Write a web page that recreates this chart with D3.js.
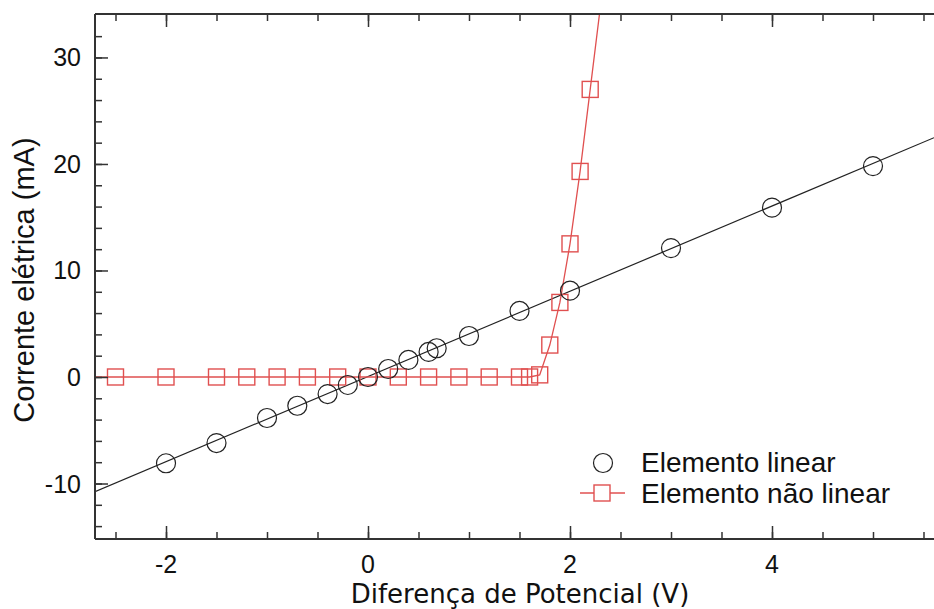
<!DOCTYPE html>
<html>
<head>
<meta charset="utf-8">
<script src="https://cdn.jsdelivr.net/npm/d3@7"></script>
<style>
  body { margin: 0; background: #fff; }
  text { font-family: "Liberation Sans", Arial, sans-serif; fill: #111; }
</style>
</head>
<body>
<svg id="chart" width="934" height="609"></svg>
<script>
// data
var linearV = [-2, -1.5, -1, -0.7, -0.4, -0.2, 0, 0.2, 0.4, 0.6, 0.68, 1, 1.5, 2, 3, 4, 5];
var linearI = [-8.1, -6.2, -3.85, -2.7, -1.6, -0.75, 0, 0.75, 1.6, 2.35, 2.7, 3.85, 6.2, 8.1, 12.1, 15.9, 19.8];
var nonlinV = [-2.5, -2, -1.5, -1.2, -0.9, -0.6, -0.3, 0, 0.3, 0.6, 0.9, 1.2, 1.5, 1.6, 1.7, 1.8, 1.9, 2.0, 2.1, 2.2];
var nonlinI = [0, 0, 0, 0, 0, 0, 0, 0, 0, 0, 0, 0, 0, 0, 0.2, 3.0, 7.0, 12.5, 19.3, 27.0];
var linearFit = { slope: 4.0, intercept: 0.05 };
var xTicks = [-2, 0, 2, 4];
var yTicks = [-10, 0, 10, 20, 30];
var seriesNames = ["Elemento linear", "Elemento não linear"];

var svg = d3.select("#chart");
var plotLeft = 95, plotRight = 934, plotTop = 14, plotBottom = 539;
var axisColor = "#333";
var red = "#e05050";

var x = d3.scaleLinear().domain([-2.703, 5.604]).range([plotLeft, plotRight]);
var y = d3.scaleLinear().domain([-15.21, 34.08]).range([plotBottom, plotTop]);

svg.append("defs").append("clipPath").attr("id", "plotClip")
  .append("rect").attr("x", plotLeft).attr("y", plotTop)
  .attr("width", plotRight - plotLeft).attr("height", plotBottom - plotTop);

var plot = svg.append("g").attr("clip-path", "url(#plotClip)");

// linear fit line over whole range
var xd = x.domain();
plot.append("line")
  .attr("x1", x(xd[0])).attr("y1", y(linearFit.slope * xd[0] + linearFit.intercept))
  .attr("x2", x(xd[1])).attr("y2", y(linearFit.slope * xd[1] + linearFit.intercept))
  .attr("stroke", "#222").attr("stroke-width", 1.2);

// non linear curve: through the points, flat to the left edge and extended past the last point
var nl = nonlinV.map(function(v, i) { return [v, nonlinI[i]]; });
var n = nl.length;
var lastSlope = (nl[n - 1][1] - nl[n - 2][1]) / (nl[n - 1][0] - nl[n - 2][0]);
var curvePts = [[xd[0], nl[0][1]]].concat(nl, [[nl[n - 1][0] + 0.3, nl[n - 1][1] + lastSlope * 0.3]]);
var line = d3.line().x(function(d) { return x(d[0]); }).y(function(d) { return y(d[1]); });
plot.append("path").attr("d", line(curvePts))
  .attr("fill", "none").attr("stroke", red).attr("stroke-width", 1.3);

plot.selectAll(".sq").data(nl).enter().append("rect")
  .attr("class", "sq")
  .attr("x", function(d) { return x(d[0]) - 8; })
  .attr("y", function(d) { return y(d[1]) - 8; })
  .attr("width", 16).attr("height", 16)
  .attr("fill", "none").attr("stroke", red).attr("stroke-width", 1.4);

plot.selectAll(".pt").data(linearV).enter().append("circle")
  .attr("class", "pt")
  .attr("cx", function(d) { return x(d); })
  .attr("cy", function(d, i) { return y(linearI[i]); })
  .attr("r", 9.5)
  .attr("fill", "none").attr("stroke", "#222").attr("stroke-width", 1.2);

// axes (ticks pointing inward)
function styleAxis(g) {
  g.select(".domain").remove();
  g.selectAll("line").attr("stroke", axisColor).attr("stroke-width", 1.5);
}
var xMinor = d3.range(-2.5, 5.6, 0.5);
var yMinor = d3.range(-14, 34, 2);

svg.append("g").attr("transform", "translate(0," + plotBottom + ")")
  .call(d3.axisTop(x).tickValues(xMinor).tickSize(7).tickFormat(""))
  .call(styleAxis);
svg.append("g").attr("transform", "translate(0," + plotBottom + ")")
  .call(d3.axisTop(x).tickValues(xTicks).tickSize(13).tickFormat(""))
  .call(styleAxis);
svg.append("g").attr("transform", "translate(0," + plotTop + ")")
  .call(d3.axisBottom(x).tickValues(xMinor).tickSize(7).tickFormat(""))
  .call(styleAxis);
svg.append("g").attr("transform", "translate(0," + plotTop + ")")
  .call(d3.axisBottom(x).tickValues(xTicks).tickSize(13).tickFormat(""))
  .call(styleAxis);
svg.append("g").attr("transform", "translate(" + plotLeft + ",0)")
  .call(d3.axisRight(y).tickValues(yMinor).tickSize(7).tickFormat(""))
  .call(styleAxis);
svg.append("g").attr("transform", "translate(" + plotLeft + ",0)")
  .call(d3.axisRight(y).tickValues(yTicks).tickSize(13).tickFormat(""))
  .call(styleAxis);

svg.append("line").attr("x1", plotLeft).attr("x2", plotRight).attr("y1", plotBottom).attr("y2", plotBottom)
  .attr("stroke", axisColor).attr("stroke-width", 2);
svg.append("line").attr("x1", plotLeft).attr("x2", plotRight).attr("y1", plotTop).attr("y2", plotTop)
  .attr("stroke", axisColor).attr("stroke-width", 2);
svg.append("line").attr("x1", plotLeft).attr("x2", plotLeft).attr("y1", plotTop).attr("y2", plotBottom)
  .attr("stroke", axisColor).attr("stroke-width", 2);

// tick labels
svg.selectAll(".xl").data(xTicks).enter().append("text")
  .attr("x", function(d) { return x(d); }).attr("y", 573)
  .attr("text-anchor", "middle").style("font-size", "25px")
  .text(function(d) { return d; });
svg.selectAll(".yl").data(yTicks).enter().append("text")
  .attr("x", 81).attr("y", function(d) { return y(d) + 9; })
  .attr("text-anchor", "end").style("font-size", "25px")
  .text(function(d) { return d; });

// axis titles
svg.append("text").attr("x", 520).attr("y", 603)
  .attr("text-anchor", "middle")
  .style("font-family", "'DejaVu Sans', sans-serif").style("font-size", "26px")
  .text("Diferença de Potencial (V)");
svg.append("text")
  .attr("transform", "translate(34,280) rotate(-90)")
  .attr("text-anchor", "middle").style("font-size", "29px")
  .text("Corrente elétrica (mA)");

// legend
var lg = svg.append("g");
lg.append("circle").attr("cx", 603).attr("cy", 463).attr("r", 9.5)
  .attr("fill", "none").attr("stroke", "#222").attr("stroke-width", 1.2);
lg.append("line").attr("x1", 580).attr("x2", 625).attr("y1", 493).attr("y2", 493)
  .attr("stroke", red).attr("stroke-width", 1.3);
lg.append("rect").attr("x", 594).attr("y", 485).attr("width", 16).attr("height", 16)
  .attr("fill", "#fff").attr("stroke", red).attr("stroke-width", 1.4);
lg.selectAll(".lt").data(seriesNames).enter().append("text")
  .attr("x", 641).attr("y", function(d, i) { return 472 + i * 31; })
  .style("font-size", "28px")
  .text(function(d) { return d; });
</script>
</body>
</html>
